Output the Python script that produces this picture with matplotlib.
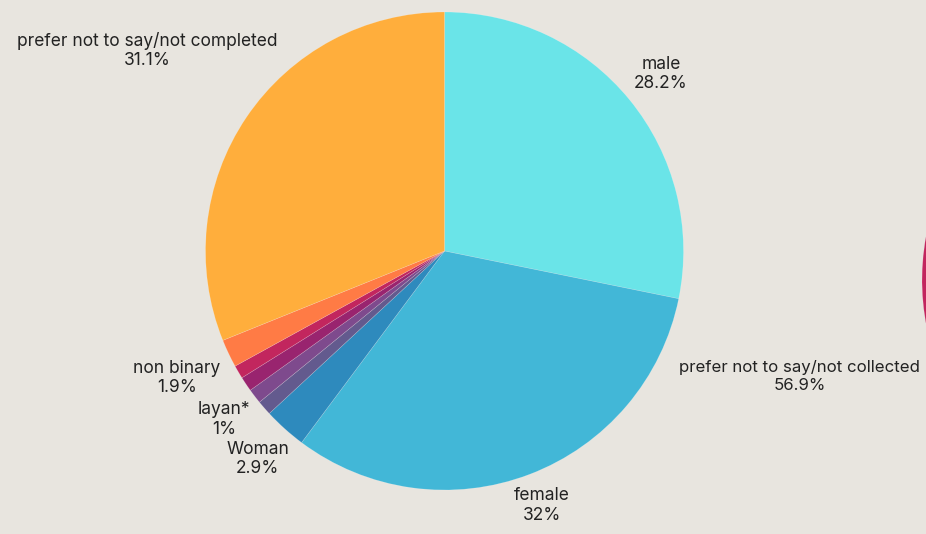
import matplotlib.pyplot as plt
import numpy as np

# gender breakdown (main pie), clockwise from 12 o'clock
labels = ["male", "female", "Woman", "", "layan*", "", "",
          "non binary", "prefer not to say/not completed"]
values = [28.2, 32.0, 2.9, 1.0, 1.0, 1.0, 0.9, 1.9, 31.1]
value_text = ["28.2%", "32%", "2.9%", "", "1%", "", "", "1.9%", "31.1%"]
colors = ["#6ae4e8", "#42b7d7", "#2e8abd", "#635a8e", "#7e4a8d",
          "#99246f", "#c2265e", "#ff7b45", "#ffae3c"]
# how far out each label sits (in pie radii)
label_dist = [1.17, 1.14, 1.17, 0, 1.16, 0, 0, 1.24, 1.50]

# second pie, mostly off the right edge
labels_2 = ["prefer not to say/not collected", ""]
values_2 = [56.9, 43.1]
value_text_2 = ["56.9%", ""]
colors_2 = ["#c2255e", "#6ae4e8"]
label_dist_2 = [1.565, 0]

bg = "#e8e5df"
plt.rcParams['font.family'] = ['Inter', 'DejaVu Sans']

fig = plt.figure(figsize=(9.26, 5.34), dpi=100)
fig.patch.set_facecolor(bg)
ax = fig.add_axes([0, 0, 1, 1])
ax.set_facecolor(bg)

radius = 239
center_1 = (444.5, 283)
center_2 = (1161, 254)


def draw_pie(vals, cols, names, texts, dists, center, counterclock, start, fs):
    wedges, _ = ax.pie(vals, colors=cols, startangle=start, counterclock=counterclock,
                       radius=radius, center=center, frame=True,
                       wedgeprops=dict(linewidth=0.4, edgecolor=(1, 1, 1, 0.25)))
    for w, name, txt, d in zip(wedges, names, texts, dists):
        if not name:
            continue
        ang = np.deg2rad((w.theta1 + w.theta2) / 2)
        x = center[0] + radius * d * np.cos(ang)
        y = center[1] + radius * d * np.sin(ang)
        ax.text(x, y, name + "\n" + txt, ha="center", va="center",
                fontsize=fs, color="#222222", linespacing=1.2)


draw_pie(values, colors, labels, value_text, label_dist, center_1, False, 90, 12.5)
draw_pie(values_2, colors_2, labels_2, value_text_2, label_dist_2, center_2, True, 92.5, 12.1)

ax.set_xlim(0, 926)
ax.set_ylim(0, 534)
ax.axis("off")

fig.savefig("out.png", dpi=100, facecolor=bg)
